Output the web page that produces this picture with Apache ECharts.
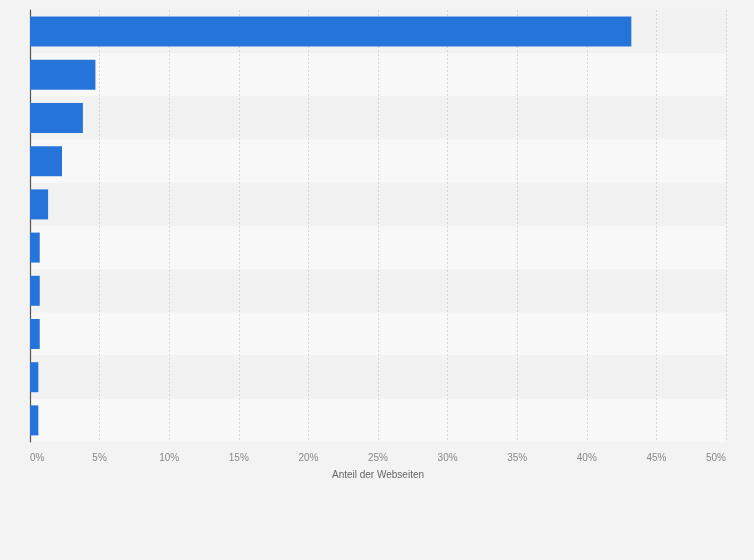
<!DOCTYPE html>
<html>
<head>
<meta charset="utf-8">
<script src="https://cdn.jsdelivr.net/npm/echarts@6/dist/echarts.min.js"></script>
<style>
html,body{margin:0;padding:0;background:#f3f3f3;}
#c{width:754px;height:560px;}
</style>
</head>
<body>
<div id="c"></div>
<script>
const categories = ['WordPress','Shopify','Wix','Squarespace','Joomla','Drupal','Webflow','Adobe Systems','Tilda','Bitrix'];
const shares = [43.2, 4.7, 3.8, 2.3, 1.3, 0.7, 0.7, 0.7, 0.6, 0.6];
const xTicks = { min: 0, max: 50, interval: 5 };
const axisName = 'Anteil der Webseiten';

const chart = echarts.init(document.getElementById('c'), null, {renderer:'canvas'});
chart.setOption({
  backgroundColor: '#f3f3f3',
  animation: false,
  grid: { left: 30, right: 28, top: 10, bottom: 118, containLabel: false },
  xAxis: {
    type: 'value',
    min: xTicks.min, max: xTicks.max, interval: xTicks.interval,
    name: axisName,
    nameLocation: 'middle',
    nameGap: 28,
    nameTextStyle: { color: '#666', fontSize: 10, fontFamily: 'Liberation Sans, Arial, sans-serif' },
    axisLine: { show: false },
    axisTick: { show: false },
    axisLabel: {
      formatter: '{value}%', color: '#888', fontSize: 10, margin: 11,
      fontFamily: 'Liberation Sans, Arial, sans-serif',
      alignMinLabel: 'left', alignMaxLabel: 'right'
    },
    splitLine: { show: true, lineStyle: { color: '#d6d6d6', type: [2, 2], width: 1 } }
  },
  yAxis: {
    type: 'category',
    data: categories,
    inverse: true,
    axisLine: { show: true, lineStyle: { color: '#555', width: 1.2 } },
    axisTick: { show: false },
    axisLabel: { show: false },
    splitLine: { show: false },
    splitArea: { show: true, areaStyle: { color: ['#f2f2f2', '#f8f8f8'] } }
  },
  series: [{
    type: 'bar',
    data: shares,
    barWidth: 30,
    itemStyle: { color: '#2574da' },
    z: 3
  }]
});
</script>
</body>
</html>
